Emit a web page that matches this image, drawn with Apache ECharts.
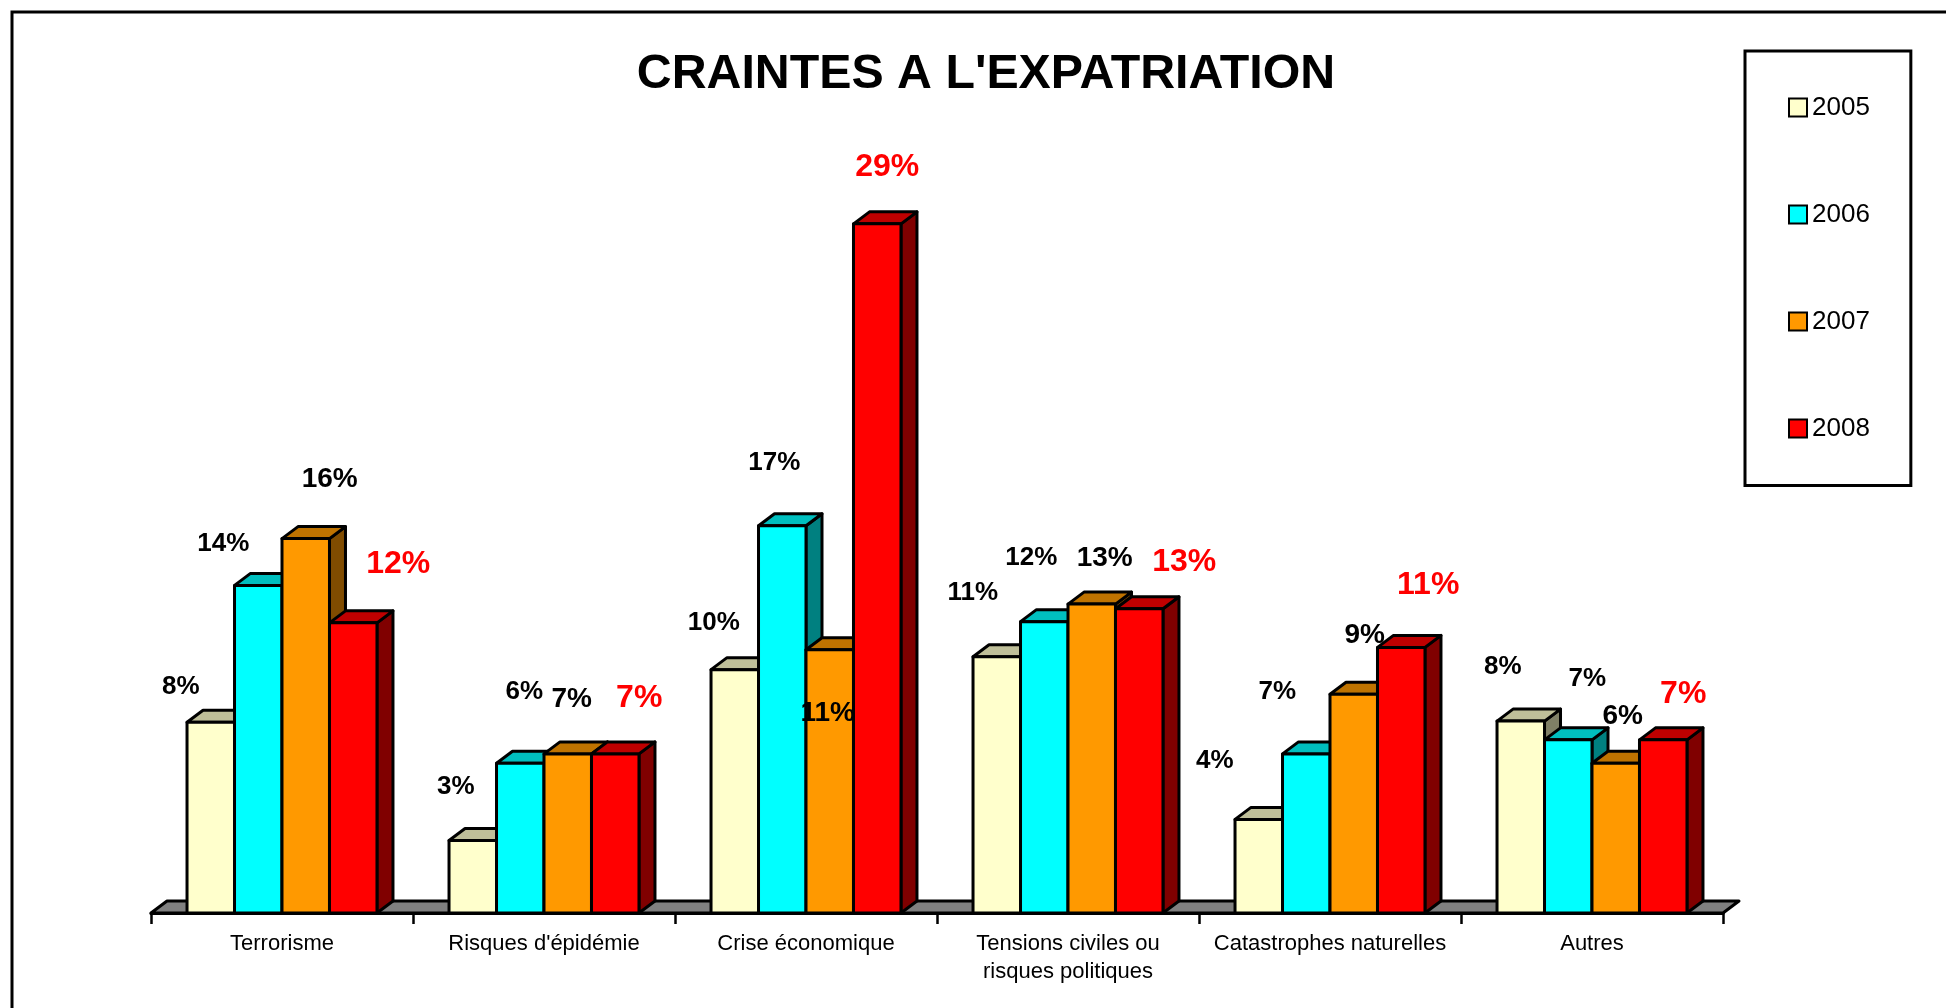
<!DOCTYPE html>
<html>
<head>
<meta charset="utf-8">
<title>Craintes a l'expatriation</title>
<style>
  html, body { margin: 0; padding: 0; background: #fff; }
  #chart { width: 1946px; height: 1008px; }
</style>
<script src="https://cdn.jsdelivr.net/npm/echarts@6/dist/echarts.min.js"></script>
</head>
<body>
<div id="chart"></div>
<script>
const categories = ['Terrorisme', "Risques d'épidémie", 'Crise économique', 'Tensions civiles ou\nrisques politiques', 'Catastrophes naturelles', 'Autres']
const years = ['2005', '2006', '2007', '2008']

// values in %
const values2005 = [8.15, 3.1, 10.4, 10.95, 4.0, 8.2]
const values2006 = [14.0, 6.4, 16.55, 12.45, 6.8, 7.4]
const values2007 = [16.0, 6.8, 11.25, 13.2, 9.35, 6.4]
const values2008 = [12.4, 6.8, 29.45, 13.0, 11.35, 7.4]
const seriesValues = [values2005, values2006, values2007, values2008]

// labels were dragged by hand in the original, px from the top centre of each bar
const labelOffsets2005 = [[-30, -35], [-17, -54], [-21, -47], [-24, -64], [-44, -59], [-18, -54]]
const labelOffsets2006 = [[-35, -42], [4, -71], [-8, -63], [-13, -64], [-29, -62], [19, -61]]
const labelOffsets2007 = [[24, -59], [4, -55], [-2, 64], [13, -46], [11, -59], [7, -47]]
const labelOffsets2008 = [[45, -59], [24, -56], [10, -57], [45, -47], [27, -62], [20, -46]]
const labelOffsets = [labelOffsets2005, labelOffsets2006, labelOffsets2007, labelOffsets2008]

const faceColors = ['#FFFFCC', '#00FFFF', '#FF9900', '#FF0000']
const topColors = ['#BFBF99', '#00BFBF', '#BF7300', '#BF0000']
const sideColors = ['#808066', '#008080', '#804C00', '#800000']
const labelColors = ['#000', '#000', '#000', '#FF0000']
const labelSizes = [26, 26, 28, 32]

const FONT = '"Liberation Sans", Arial, sans-serif'
const DEPTH_X = 16
const DEPTH_Y = 12
const GROUP_RATIO = 0.725
const STROKE = 3

const edge = { stroke: '#000', lineWidth: STROKE, lineJoin: 'round' }

const barPosition = (api, seriesIdx) => {
  const i = api.value(0)
  const top = api.coord([i, api.value(1)])
  const base = api.coord([i, 0])
  const band = api.size([1, 0])[0]
  const w = band * GROUP_RATIO / years.length
  const x = top[0] - band * GROUP_RATIO / 2 + w * seriesIdx
  return { x, w, top: top[1], base: base[1] }
}

const renderBar = seriesIdx => (params, api) => {
  const { x, w, top, base } = barPosition(api, seriesIdx)
  const r = x + w
  return {
    type: 'group',
    children: [
      { type: 'polygon', shape: { points: [[r, top], [r + DEPTH_X, top - DEPTH_Y], [r + DEPTH_X, base - DEPTH_Y], [r, base]] }, style: { ...edge, fill: sideColors[seriesIdx] } },
      { type: 'polygon', shape: { points: [[x, top], [x + DEPTH_X, top - DEPTH_Y], [r + DEPTH_X, top - DEPTH_Y], [r, top]] }, style: { ...edge, fill: topColors[seriesIdx] } },
      { type: 'rect', shape: { x, y: top, width: w, height: base - top }, style: { ...edge, fill: faceColors[seriesIdx] } }
    ]
  }
}

const renderLabel = seriesIdx => (params, api) => {
  const { x, w, top } = barPosition(api, seriesIdx)
  const off = labelOffsets[seriesIdx][api.value(0)]
  return {
    type: 'text',
    style: {
      text: Math.round(api.value(1)) + '%',
      x: x + w / 2 + off[0],
      y: top + off[1],
      align: 'center',
      verticalAlign: 'middle',
      fill: labelColors[seriesIdx],
      font: `bold ${labelSizes[seriesIdx]}px ${FONT}`
    }
  }
}

const renderFloor = params => {
  const { x, y, width, height } = params.coordSys
  const b = y + height
  return {
    type: 'polygon',
    shape: { points: [[x, b], [x + DEPTH_X, b - DEPTH_Y], [x + width + DEPTH_X, b - DEPTH_Y], [x + width, b]] },
    style: { ...edge, fill: '#808080' }
  }
}

const series = [
  { name: 'floor', type: 'custom', renderItem: renderFloor, data: [[0, 0]], z: 1, silent: true }
]
years.forEach((year, s) => {
  series.push({
    name: year,
    type: 'custom',
    renderItem: renderBar(s),
    encode: { x: 0, y: 1 },
    data: seriesValues[s].map((v, i) => [i, v]),
    itemStyle: { color: faceColors[s], borderColor: '#000', borderWidth: 2.5 },
    z: 2 + s
  })
})
years.forEach((year, s) => {
  series.push({
    name: year + ' labels',
    type: 'custom',
    renderItem: renderLabel(s),
    encode: { x: 0, y: 1 },
    data: seriesValues[s].map((v, i) => [i, v]),
    z: 20
  })
})

const chart = echarts.init(document.getElementById('chart'))
chart.setOption({
  animation: false,
  backgroundColor: '#fff',
  title: {
    text: "CRAINTES A L'EXPATRIATION",
    left: 981,
    top: 46,
    textAlign: 'center',
    textStyle: { fontFamily: FONT, fontSize: 48.3, fontWeight: 'bold', color: '#000' }
  },
  legend: {
    data: years,
    orient: 'vertical',
    left: 1745,
    top: 51,
    padding: [43.5, 41, 44, 43],
    itemWidth: 18,
    itemHeight: 18,
    itemGap: 81,
    icon: 'rect',
    selectedMode: false,
    borderColor: '#000',
    borderWidth: 3,
    textStyle: { fontFamily: FONT, fontSize: 26, color: '#000' }
  },
  grid: { left: 151, top: 211, width: 1572, height: 702 },
  xAxis: {
    type: 'category',
    data: categories,
    z: 10,
    axisLine: { lineStyle: { color: '#000', width: 3 } },
    axisTick: { show: true, length: 11, lineStyle: { color: '#000', width: 2.5 } },
    axisLabel: { fontFamily: FONT, fontSize: 22, color: '#000', margin: 17, lineHeight: 28, interval: 0 }
  },
  yAxis: { type: 'value', min: 0, max: 30, interval: 5, show: false, splitLine: { show: false } },
  series,
  graphic: [
    { type: 'polyline', silent: true, shape: { points: [[12, 1008], [12, 12], [1946, 12]] }, style: { stroke: '#000', lineWidth: 3, fill: null } }
  ]
})
</script>
</body>
</html>
